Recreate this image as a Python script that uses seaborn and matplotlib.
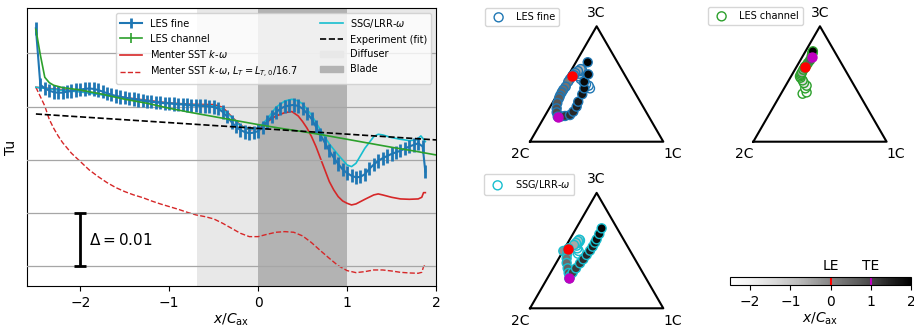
import numpy as np
import matplotlib
matplotlib.use("Agg")
import matplotlib.pyplot as plt
import matplotlib.transforms as mtransforms
from matplotlib.patches import Patch
from matplotlib.colors import Normalize
from matplotlib.cm import ScalarMappable
import seaborn as sns

# ---------------- data ----------------
les_fine_x = list(np.round(np.arange(-2.5, 1.851, 0.05), 2)) + [1.88]
les_fine_tu = [0.0547, 0.0441, 0.0434, 0.0430, 0.0427, 0.0426, 0.0426, 0.0428, 0.0429, 0.0431,
               0.0432, 0.0433, 0.0434, 0.0433, 0.0431, 0.0428, 0.0425, 0.0422, 0.0420, 0.0418,
               0.0417, 0.0415, 0.0414, 0.0412, 0.0411, 0.0410, 0.0409, 0.0408, 0.0407, 0.0406,
               0.0406, 0.0405, 0.0404, 0.0404, 0.0403, 0.0402, 0.0402, 0.0401, 0.0401, 0.0400,
               0.0399, 0.0396, 0.0390, 0.0381, 0.0371, 0.0362, 0.0356, 0.0352, 0.0350, 0.0351,
               0.0354, 0.0361, 0.0371, 0.0381, 0.0389, 0.0396, 0.0400, 0.0402, 0.0403, 0.0401,
               0.0396, 0.0387, 0.0377, 0.0362, 0.0347, 0.0332, 0.0317, 0.0304, 0.0292, 0.0282,
               0.0275, 0.0270, 0.0267, 0.0268, 0.0273, 0.0283, 0.0291, 0.0298, 0.0303, 0.0307,
               0.0311, 0.0314, 0.0317, 0.0321, 0.0325, 0.0328, 0.0331, 0.0325, 0.0278]
les_fine_err = 0.00125

les_ch_x = [-2.5, -2.45, -2.4, -2.35, -2.3, -2.2, -2.0, -1.75, -1.5, -1.25, -1.0, -0.75, -0.5,
            -0.25, 0.0, 0.25, 0.5, 0.75, 1.0, 1.25, 1.5, 1.75, 2.0]
les_ch_tu = [0.05450, 0.04969, 0.04549, 0.04449, 0.04399, 0.04355, 0.04311, 0.04230, 0.04136,
             0.04061, 0.03967, 0.03886, 0.03811, 0.03736, 0.03661, 0.03592, 0.03529, 0.03460,
             0.03385, 0.03310, 0.03235, 0.03166, 0.03091]
les_ch_err = [0.0] * len(les_ch_x)

ssg_x = [-2.5, -2.25, -2.0, -1.75, -1.5, -1.25, -1.0, -0.75, -0.5, -0.4, -0.3, -0.2, -0.1, 0.0,
         0.1, 0.2, 0.3, 0.38, 0.45, 0.5, 0.6, 0.7, 0.8, 0.9, 1.0, 1.05, 1.1, 1.2, 1.3, 1.35,
         1.4, 1.5, 1.6, 1.7, 1.78, 1.83, 1.86, 1.88]
ssg_tu = [0.04361, 0.04311, 0.04274, 0.04218, 0.04155, 0.04105, 0.04061, 0.04030, 0.04011,
          0.03949, 0.03798, 0.03636, 0.03573, 0.03592, 0.03761, 0.03986, 0.04105, 0.04136,
          0.04105, 0.04049, 0.03842, 0.03561, 0.03298, 0.03091, 0.02903, 0.02872, 0.02934,
          0.03216, 0.03435, 0.03479, 0.03467, 0.03417, 0.03385, 0.03360, 0.03373, 0.03448,
          0.03385, 0.03341]

sst_x = [-2.5, -2.0, -1.5, -1.0, -0.75, -0.5, -0.4, -0.3, -0.2, -0.1, 0.0, 0.1, 0.2, 0.3, 0.38,
         0.45, 0.5, 0.55, 0.6, 0.65, 0.7, 0.75, 0.8, 0.85, 0.9, 0.95, 1.0, 1.05, 1.1, 1.2, 1.3,
         1.35, 1.4, 1.5, 1.6, 1.7, 1.8, 1.84, 1.86, 1.88]
sst_tu = [0.04361, 0.04286, 0.04168, 0.04067, 0.04042, 0.04036, 0.03986, 0.03811, 0.03649,
          0.03561, 0.03586, 0.03711, 0.03823, 0.03886, 0.03905, 0.03823, 0.03717, 0.03592,
          0.03436, 0.03248, 0.03029, 0.02810, 0.02591, 0.02434, 0.02308, 0.02227, 0.02183,
          0.02152, 0.02171, 0.02258, 0.02340, 0.02359, 0.02340, 0.02296, 0.02265, 0.02258,
          0.02265, 0.02296, 0.02383, 0.02383]

sst_lt_x = [-2.5, -2.45, -2.4, -2.35, -2.3, -2.25, -2.2, -2.1, -2.0, -1.9, -1.8, -1.7, -1.6,
            -1.5, -1.4, -1.3, -1.2, -1.1, -1.0, -0.9, -0.8, -0.7, -0.6, -0.5, -0.4, -0.3, -0.2,
            -0.1, 0.0, 0.1, 0.2, 0.3, 0.4, 0.5, 0.6, 0.7, 0.8, 0.9, 1.0, 1.1, 1.2, 1.3, 1.4,
            1.5, 1.6, 1.7, 1.8, 1.84, 1.86, 1.88]
sst_lt_tu = [0.04361, 0.04186, 0.04011, 0.03761, 0.03592, 0.03448, 0.03323, 0.03123, 0.02966,
             0.02809, 0.02684, 0.02571, 0.02477, 0.02402, 0.02340, 0.02290, 0.02227, 0.02171,
             0.02121, 0.02071, 0.02015, 0.01965, 0.01933, 0.01890, 0.01808, 0.01714, 0.01620,
             0.01557, 0.01557, 0.01601, 0.01639, 0.01651, 0.01639, 0.01570, 0.01444, 0.01294,
             0.01150, 0.01012, 0.00919, 0.00881, 0.00900, 0.00931, 0.00931, 0.00912, 0.00887,
             0.00875, 0.00869, 0.00887, 0.00994, 0.01025]

exp_x = [-2.5, 2.0]
exp_tu = [0.03860, 0.03373]

diffuser_range = [-0.69, 2.0]
blade_range = [0.0, 1.0]
delta_bar_x = -2.0
delta_bar_lo, delta_bar_hi = 0.01, 0.02

# barycentric-map coordinates (2C=(0,0), 1C=(1,0), 3C=(0.5,0.866))
tri_fine_pos = [-2.5, -2.3, -2.1, -1.9, -1.7, -1.5, -1.3, -1.1, -0.9, -0.7, -0.5, -0.3, -0.1, 0.0,
                0.1, 0.2, 0.3, 0.4, 0.5, 0.6, 0.7, 0.8, 0.9, 0.95, 1.0, 1.1, 1.2, 1.3, 1.4, 1.5,
                1.6, 1.7, 1.8, 1.85, 1.9, 2.0]
tri_fine_bx = [.45, .44, .42, .40, .38, .37, .37, .38, .39, .38, .36, .34, .33, .318, .30, .287,
               .268, .25, .238, .225, .218, .205, .20, .20, .208, .235, .263, .30, .325, .35,
               .362, .392, .407, .407, .437, .433]
tri_fine_by = [.40, .42, .43, .45, .47, .49, .51, .53, .54, .545, .53, .515, .50, .495, .47, .45,
               .413, .39, .37, .345, .326, .29, .25, .22, .188, .19, .193, .20, .225, .263, .30,
               .356, .40, .45, .505, .596]

tri_ch_pos = [-2.5, -2.3, -2.1, -1.9, -1.7, -1.5, -1.3, -1.1, -0.9, -0.7, -0.5, -0.3, -0.1, 0.0,
              0.25, 0.5, 0.75, 1.0, 1.25, 1.5, 1.75, 2.0]
tri_ch_bx = [.37, .40, .39, .40, .38, .37, .355, .35, .355, .36, .365, .375, .385, .388, .40,
             .41, .425, .438, .44, .443, .445, .447]
tri_ch_by = [.36, .37, .40, .42, .44, .46, .48, .49, .50, .51, .52, .54, .555, .563, .575, .59,
             .61, .638, .65, .663, .67, .678]

tri_ssg_pos = [-2.5, -2.3, -2.1, -1.9, -1.7, -1.5, -1.3, -1.1, -0.9, -0.7, -0.5, -0.3, -0.15,
               0.0, 0.15, 0.3, 0.45, 0.6, 0.8, 0.9, 1.0, 1.08, 1.16, 1.24, 1.32, 1.4, 1.48, 1.56,
               1.64, 1.72, 1.82, 1.92]
tri_ssg_bx = [.36, .365, .355, .35, .36, .37, .375, .37, .36, .345, .33, .29, .25, .2825, .28,
              .275, .275, .2825, .29, .30, .295, .32, .345, .375, .40, .425, .45, .47, .4875,
              .50, .52, .5375]
tri_ssg_by = [.41, .43, .45, .47, .49, .50, .51, .515, .505, .49, .475, .45, .43, .4425, .41,
              .375, .34, .30, .265, .24, .225, .2675, .30, .3375, .3675, .40, .4325, .4625,
              .4925, .5175, .5575, .60]

cbar_ticks = [-2, -1, 0, 1, 2]
pos_min, pos_max = -2.5, 2.0
le_pos, te_pos = 0.0, 1.0

# ---------------- figure ----------------
W, H = 914, 326
fig = plt.figure(figsize=(W / 100, H / 100), dpi=100)


def px_axes(left, top, right, bottom):
    return fig.add_axes([left / W, 1 - bottom / H, (right - left) / W, (bottom - top) / H])


C_BLUE, C_GREEN, C_RED, C_CYAN = "#1f77b4", "#2ca02c", "#d62728", "#17becf"

ax = px_axes(27, 8, 436, 286)
ax.axvspan(*diffuser_range, color="0.91", lw=0, zorder=0)
ax.axvspan(*blade_range, color="0.70", lw=0, zorder=0.1)
ax.set_yticks([0.01, 0.02, 0.03, 0.04, 0.05])
ax.set_yticklabels([])
ax.tick_params(axis="y", length=0)
ax.grid(axis="y", color="0.65", lw=0.9)
ax.set_axisbelow(False)
for gl in ax.get_ygridlines():
    gl.set_zorder(0.5)

eb_fine = ax.errorbar(les_fine_x, les_fine_tu, yerr=les_fine_err, color=C_BLUE, lw=1.5,
                      elinewidth=2.0, zorder=3)
eb_ch = ax.errorbar(les_ch_x, les_ch_tu, yerr=les_ch_err, color=C_GREEN, lw=1.2, zorder=3.2)

sns.lineplot(x=sst_x, y=sst_tu, ax=ax, color=C_RED, lw=1.2, zorder=2.5)
l_sst = ax.lines[-1]
sns.lineplot(x=sst_lt_x, y=sst_lt_tu, ax=ax, color=C_RED, lw=1.0, linestyle="--", zorder=2.5)
l_sst_lt = ax.lines[-1]
sns.lineplot(x=ssg_x, y=ssg_tu, ax=ax, color=C_CYAN, lw=1.2, zorder=2.8)
l_ssg = ax.lines[-1]
sns.lineplot(x=exp_x, y=exp_tu, ax=ax, color="k", lw=1.2, linestyle="--", zorder=3.5)
l_exp = ax.lines[-1]

ax.errorbar([delta_bar_x], [(delta_bar_lo + delta_bar_hi) / 2],
            yerr=[(delta_bar_hi - delta_bar_lo) / 2], color="k", elinewidth=2, capsize=4,
            capthick=2, zorder=4)
ax.text(delta_bar_x + 0.1, (delta_bar_lo + delta_bar_hi) / 2, r"$\Delta = 0.01$",
        fontsize=11, va="center", ha="left")

ax.set_xlim(-2.6, 2.0)
ax.set_ylim(0.0063, 0.0585)
ax.set_xticks([-2, -1, 0, 1, 2])
ax.set_xlabel(r"$x/C_\mathrm{ax}$", fontsize=10, labelpad=1)
ax.set_ylabel("Tu", fontsize=10, labelpad=3)

handles = [eb_fine, eb_ch, l_sst, l_sst_lt, l_ssg, l_exp,
           Patch(color="0.91"), Patch(color="0.70")]
labels = ["LES fine", "LES channel", r"Menter SST $k$-$\omega$",
          r"Menter SST $k$-$\omega$, $L_T = L_{T,0}/16.7$", r"SSG/LRR-$\omega$",
          "Experiment (fit)", "Diffuser", "Blade"]
leg = ax.legend(handles, labels, ncol=2, loc="upper right", fontsize=7, framealpha=0.8,
                handlelength=2.3, columnspacing=2.4, handletextpad=0.75)
leg.set_zorder(10)

# ---------------- triangles ----------------
norm = Normalize(vmin=pos_min, vmax=pos_max)
cmap = "Greys"
SCALE = 133.3
h3 = np.sqrt(3) / 2
MS = 42


def triangle(x2c, y2c, pos, bx, by, edge, label, leg_px, yr=(-0.15, 1.0)):
    xr = (-0.45, 1.15)
    a = px_axes(x2c + xr[0] * SCALE, y2c - yr[1] * SCALE, x2c + xr[1] * SCALE,
                y2c - yr[0] * SCALE)
    a.set_xlim(*xr)
    a.set_ylim(*yr)
    a.axis("off")
    a.plot([0, 1, 0.5, 0], [0, 0, h3, 0], color="k", lw=1.5, zorder=1)
    a.text(0.5, h3 + 0.05, "3C", ha="center", va="bottom", fontsize=10)
    a.text(0.0, -0.04, "2C", ha="right", va="top", fontsize=10)
    a.text(1.0, -0.04, "1C", ha="left", va="top", fontsize=10)
    sc = a.scatter(bx, by, c=pos, cmap=cmap, norm=norm, s=MS, edgecolors=edge,
                   linewidths=1.0, zorder=2, label=label)
    pos_arr = np.asarray(pos)
    i_le = int(np.argmin(np.abs(pos_arr - le_pos)))
    i_te = int(np.argmin(np.abs(pos_arr - te_pos)))
    a.scatter([bx[i_le]], [by[i_le]], color="r", s=MS, zorder=3)
    a.scatter([bx[i_te]], [by[i_te]], color="m", s=MS, zorder=3)
    a.legend(handles=[sc], loc="upper left", bbox_to_anchor=(leg_px[0] / W, 1 - leg_px[1] / H),
             bbox_transform=fig.transFigure, borderaxespad=0, fontsize=7)
    return a


triangle(530, 141.7, tri_fine_pos, tri_fine_bx, tri_fine_by, C_BLUE, "LES fine", (485, 8))
triangle(753.3, 141.7, tri_ch_pos, tri_ch_bx, tri_ch_by, C_GREEN, "LES channel", (708, 7))
triangle(530, 308.3, tri_ssg_pos, tri_ssg_bx, tri_ssg_by, C_CYAN, r"SSG/LRR-$\omega$",
         (484, 174), yr=(-0.13, 1.0))

# ---------------- colorbar ----------------
cax = px_axes(730, 277, 911, 285)
cb = fig.colorbar(ScalarMappable(norm=norm, cmap=cmap), cax=cax, orientation="horizontal")
cb.set_ticks(cbar_ticks)
cb.outline.set_linewidth(0.8)
cax.tick_params(labelsize=10)
cb.set_label(r"$x/C_\mathrm{ax}$", fontsize=10, labelpad=1)
cax.axvline(le_pos, color="r", lw=1.5)
cax.axvline(te_pos, color="m", lw=1.5)
trans = mtransforms.blended_transform_factory(cax.transData, cax.transAxes)
cax.text(le_pos, 1.5, "LE", transform=trans, ha="center", va="bottom", fontsize=10)
cax.text(te_pos, 1.5, "TE", transform=trans, ha="center", va="bottom", fontsize=10)

fig.savefig("out.png", dpi=100)
